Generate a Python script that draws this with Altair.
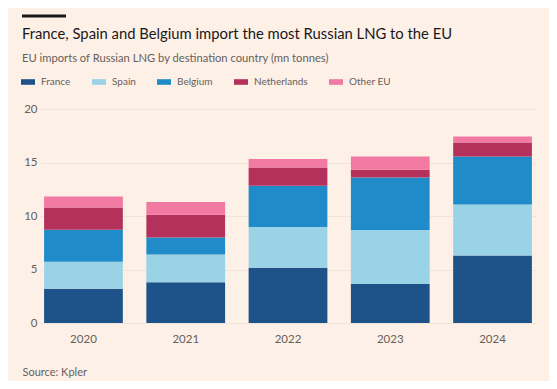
import altair as alt
import pandas as pd

years = ["2020", "2021", "2022", "2023", "2024"]
countries = ["France", "Spain", "Belgium", "Netherlands", "Other EU"]
france = [3.2, 3.8, 5.17, 3.64, 6.32]
spain = [2.53, 2.61, 3.8, 5.05, 4.76]
belgium = [2.99, 1.59, 3.86, 4.91, 4.49]
netherlands = [2.08, 2.12, 1.71, 0.73, 1.31]
other_eu = [1.03, 1.19, 0.79, 1.24, 0.56]
colors = ["#1e5389", "#9ad2e6", "#1f8bc9", "#b4315b", "#f279a2"]
y_ticks = [0, 5, 10, 15, 20]
title_text = "France, Spain and Belgium import the most Russian LNG to the EU"
subtitle_text = "EU imports of Russian LNG by destination country (mn tonnes)"

series = [france, spain, belgium, netherlands, other_eu]
rows = []
for ci, (c, vals) in enumerate(zip(countries, series)):
    for y, v in zip(years, vals):
        rows.append({"year": y, "country": c, "value": v, "order": ci})
df = pd.DataFrame(rows)

BG = "#fdf0e6"
GREY = "#66605c"
DARK = "#1a1817"
FONT = "Lato"
W, H = 496, 214

bars = alt.Chart(df).mark_bar().encode(
    x=alt.X("year:N", sort=years,
            scale=alt.Scale(paddingInner=0.23, paddingOuter=0.04),
            axis=alt.Axis(title="Source: Kpler", labelAngle=0, ticks=False, domain=False,
                          labelPadding=10, labelFontSize=11.5, labelColor=GREY, labelFont=FONT,
                          titleX=-18, titleY=43, titleAnchor="start", titleAlign="left",
                          titleBaseline="top", titleFont=FONT, titleFontSize=11,
                          titleFontWeight="normal", titleColor=GREY)),
    y=alt.Y("value:Q", stack="zero",
            scale=alt.Scale(domain=[0, 20], nice=False),
            axis=alt.Axis(title=None, values=y_ticks, ticks=False, domain=False,
                          labelPadding=3, labelFontSize=11.5, labelColor=GREY, labelFont=FONT,
                          gridColor="#efe4da", gridWidth=1)),
    color=alt.Color("country:N", sort=countries,
                    scale=alt.Scale(domain=countries, range=colors),
                    legend=alt.Legend(title=None, orient="none", direction="horizontal",
                                      legendX=-19, legendY=-34,
                                      symbolType="M-1,-0.4H1V0.4H-1Z", symbolSize=196,
                                      symbolStrokeWidth=0, symbolOpacity=1,
                                      labelFont=FONT, labelFontSize=10, labelColor=GREY,
                                      labelOffset=6, columnPadding=21)),
    order=alt.Order("order:Q", sort="ascending"),
)

one = pd.DataFrame({"k": [0]})

rule = alt.Chart(one).mark_rule(color=DARK, strokeWidth=3).encode(
    x=alt.value(-18), x2=alt.value(26), y=alt.value(-93)
)

title = alt.Chart(one).mark_text(
    text=title_text, align="left", baseline="alphabetic",
    font=FONT, fontSize=14.8, color=DARK
).encode(x=alt.value(-18), y=alt.value(-69.7))

subtitle = alt.Chart(one).mark_text(
    text=subtitle_text, align="left", baseline="alphabetic",
    font=FONT, fontSize=11.2, color=GREY
).encode(x=alt.value(-18), y=alt.value(-46.7))

chart = alt.layer(bars, rule, title, subtitle).properties(
    width=W, height=H,
    background=BG,
    padding={"left": 32, "top": 101, "right": 13, "bottom": 58},
    autosize=alt.AutoSizeParams(type="none"),
).configure_view(stroke=None)

chart.save("out.html", embed_options={"renderer": "svg", "actions": False})
